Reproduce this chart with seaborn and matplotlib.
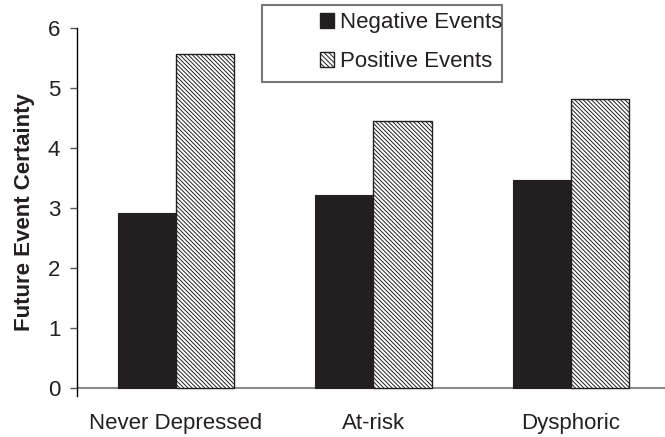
import matplotlib
matplotlib.use("Agg")
import matplotlib.pyplot as plt
import seaborn as sns
import pandas as pd
from matplotlib.patches import Patch, Rectangle

categories = ["Never Depressed", "At-risk", "Dysphoric"]
series_names = ["Negative Events", "Positive Events"]
negative_vals = [2.92, 3.22, 3.46]
positive_vals = [5.56, 4.45, 4.81]
yticks = [0, 1, 2, 3, 4, 5, 6]

df = pd.DataFrame({
    "group": categories * 2,
    "event": [series_names[0]] * 3 + [series_names[1]] * 3,
    "value": negative_vals + positive_vals,
})

sns.set_style("white")
plt.rcParams["font.family"] = ["Liberation Sans", "DejaVu Sans"]
plt.rcParams["hatch.linewidth"] = 0.7
plt.rcParams["hatch.color"] = "#2a2a2a"

HATCH = "\\" * 8

fig = plt.figure(figsize=(6.65, 4.37), dpi=100)
ax = fig.add_axes([77 / 665, 41 / 437, (665 - 77) / 665, 368.3 / 437])

sns.barplot(data=df, x="group", y="value", hue="event", order=categories,
            hue_order=series_names, palette=["#231f20", "white"],
            width=0.59, gap=0, ax=ax, legend=False, saturation=1)

n = len(categories)
for i, p in enumerate(ax.patches):
    if i < n:
        p.set_facecolor("#231f20")
        p.set_edgecolor("#231f20")
        p.set_linewidth(0.8)
    else:
        p.set_facecolor("white")
        p.set_edgecolor("#231f20")
        p.set_hatch(HATCH)
        p.set_linewidth(1.0)

ax.set_xlim(-0.5, 2.476)
ax.set_ylim(-0.128, 6)
ax.set_yticks(yticks)
ax.axhline(0, color="#8a8a8a", lw=1.5, zorder=0.5)

for s in ["top", "right", "bottom"]:
    ax.spines[s].set_visible(False)
ax.spines["left"].set_color("black")
ax.spines["left"].set_linewidth(1.0)
ax.spines["left"].set_bounds(-0.128, 6)

ax.tick_params(axis="y", direction="out", length=5, width=1, color="#555555",
               labelsize=16, pad=7, left=True, labelcolor="#231f20")
ax.tick_params(axis="x", length=0, labelsize=16, pad=12, labelcolor="#231f20")
ax.set_xlabel("")
ax.set_ylabel("Future Event Certainty", fontsize=16, fontweight="bold",
              color="#231f20", labelpad=9)

# legend frame drawn as a figure rectangle
fig.patches.append(Rectangle((262 / 665, 1 - 82 / 437), 240 / 665, 77 / 437,
                             transform=fig.transFigure, facecolor="white",
                             edgecolor="#777777", lw=1.5, zorder=5))
handles = [Patch(facecolor="#231f20", edgecolor="#231f20", label=series_names[0]),
           Patch(facecolor="white", edgecolor="#231f20", hatch="\\" * 7, label=series_names[1])]
leg = fig.legend(handles=handles, loc="upper left",
                 bbox_to_anchor=(316 / 665, 1 - 8 / 437), bbox_transform=fig.transFigure,
                 fontsize=16, frameon=False, handlelength=0.62,
                 handleheight=0.62, handletextpad=0.25, labelspacing=0.8,
                 borderpad=0.2, borderaxespad=0)
leg.set_zorder(6)
for t in leg.get_texts():
    t.set_color("#231f20")

fig.savefig("out.png", dpi=100)
